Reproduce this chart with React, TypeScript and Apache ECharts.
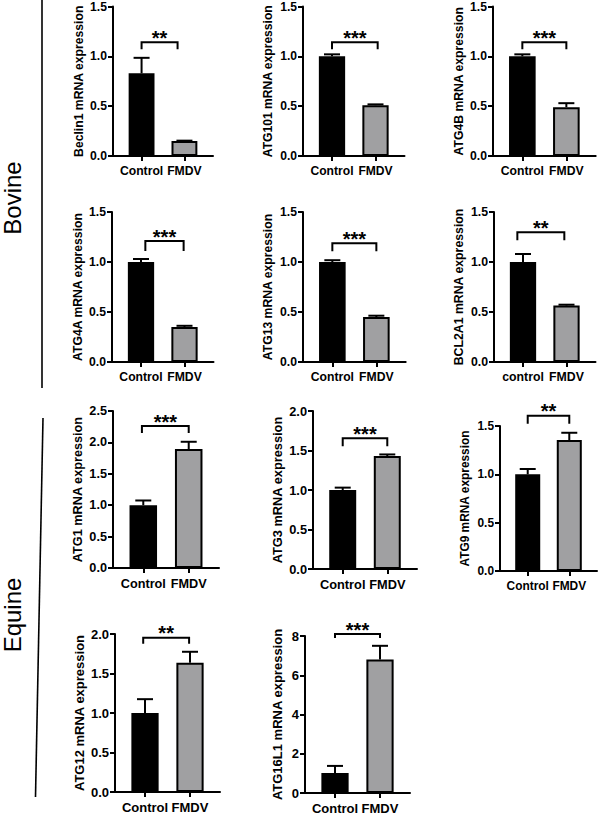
import React, { useEffect, useRef } from 'react';
import * as echarts from 'echarts';

// ---- data ----
const genes = ['Beclin1', 'ATG101', 'ATG4B', 'ATG4A', 'ATG13', 'BCL2A1', 'ATG1', 'ATG3', 'ATG9', 'ATG12', 'ATG16L1'];
const controlLabels = ['Control', 'Control', 'Control', 'Control', 'Control', 'control', 'Control', 'Control', 'Control', 'Control', 'Control'];
const infectedLabel = 'FMDV';
const meanControl = [0.83, 1.0, 1.0, 1.0, 1.0, 1.0, 1.0, 1.0, 1.0, 1.0, 1.02];
const meanFMDV = [0.15, 0.51, 0.49, 0.35, 0.45, 0.565, 1.895, 1.43, 1.355, 1.635, 6.8];
const errControl = [0.155, 0.02, 0.02, 0.03, 0.018, 0.08, 0.075, 0.03, 0.055, 0.175, 0.36];
const errFMDV = [0.004, 0.008, 0.04, 0.012, 0.013, 0.008, 0.115, 0.02, 0.075, 0.14, 0.7];
const significance = ['**', '***', '***', '***', '***', '**', '***', '***', '**', '**', '***'];
const yMax = [1.5, 1.5, 1.5, 1.5, 1.5, 1.5, 2.5, 2.0, 1.5, 2.0, 8];
const yStep = [0.5, 0.5, 0.5, 0.5, 0.5, 0.5, 0.5, 0.5, 0.5, 0.5, 2];
const bracketLevel = [1.142, 1.142, 1.142, 1.21, 1.187, 1.297, 2.26, 1.654, 1.607, 1.953, 8.1];
const sideLabels = ['Bovine', 'Equine'];

// ---- layout (pixels) ----
const layout = [
  { left: 113, width: 100, top: 6.5, bottom: 156 },
  { left: 303, width: 101.5, top: 6.5, bottom: 156 },
  { left: 493, width: 102.7, top: 6.5, bottom: 156 },
  { left: 112, width: 101.5, top: 212, bottom: 362 },
  { left: 303, width: 102.7, top: 212, bottom: 362 },
  { left: 494, width: 101.5, top: 212, bottom: 362 },
  { left: 113, width: 106, top: 411, bottom: 568 },
  { left: 313, width: 104, top: 411, bottom: 569 },
  { left: 500, width: 97, top: 426, bottom: 571 },
  { left: 115, width: 105, top: 634, bottom: 792 },
  { left: 305, width: 105, top: 636, bottom: 793 },
];
const fontSizes = [12.2, 12.1, 12.2, 12.2, 12.2, 12.3, 12.7, 12.8, 11.9, 13, 13];
const titleCenterGap = [34.5, 35, 34.5, 34, 35, 35, 35, 35, 35, 36, 28];
const bracketSpan = [[1, 1.84], [1, 2.05], [1, 2], [1.1, 1.98], [1, 2], [0.87, 1.95], [0.97, 2], [1, 2], [1, 2], [0.96, 1.98], [1, 2]];
const bracketLeg = [7, 7, 7, 10, 8, 8, 7, 8, 8, 6, 4];

const FONT = "'Liberation Sans', Arial, Helvetica, sans-serif";

export default function App() {
  const ref = useRef<HTMLDivElement>(null);

  useEffect(() => {
    const chart = echarts.init(ref.current as HTMLDivElement, null, { renderer: 'svg' });
    const grid: any[] = [];
    const xAxis: any[] = [];
    const yAxis: any[] = [];
    const series: any[] = [];

    const axisColor = { color: '#000', width: 2 };

    genes.forEach((gene, i) => {
      const L = layout[i];
      const fs = fontSizes[i];
      const labelStyle = { color: '#000', fontSize: fs, fontWeight: 'bold', fontFamily: FONT };
      const unit = (L.width * 3) / 7;
      const cats = [controlLabels[i], infectedLabel];
      grid.push({
        left: L.left,
        top: L.top,
        width: L.width,
        height: L.bottom - L.top,
        containLabel: false,
        outerBoundsMode: 'none',
      });
      xAxis.push({
        gridIndex: i,
        type: 'value',
        min: 1 / 3,
        max: 8 / 3,
        axisLine: { show: true, onZero: false, lineStyle: axisColor },
        axisTick: { show: true, customValues: [1, 2], length: 5, lineStyle: axisColor },
        axisLabel: {
          customValues: [1, 2],
          formatter: (v: number) => cats[Math.round(v) - 1] ?? '',
          margin: 9,
          ...labelStyle,
        },
        splitLine: { show: false },
      });
      yAxis.push({
        gridIndex: i,
        type: 'value',
        min: 0,
        max: yMax[i],
        interval: yStep[i],
        name: `${gene} mRNA expression`,
        nameLocation: 'middle',
        nameGap: titleCenterGap[i] - fs / 2,
        nameTextStyle: { ...labelStyle },
        axisLine: { show: true, onZero: false, lineStyle: axisColor },
        axisTick: { show: true, length: 5, lineStyle: axisColor },
        axisLabel: {
          formatter: (v: number) => (yStep[i] >= 1 ? String(Math.round(v)) : v.toFixed(1)),
          margin: 6,
          ...labelStyle,
        },
        splitLine: { show: false },
      });
      series.push({
        type: 'bar',
        xAxisIndex: i,
        yAxisIndex: i,
        barWidth: unit * 0.65 - 2,
        silent: true,
        itemStyle: { borderColor: '#000', borderWidth: 2 },
        data: [
          { value: [1, meanControl[i]], itemStyle: { color: '#000' } },
          { value: [2, meanFMDV[i]], itemStyle: { color: '#a0a0a2' } },
        ],
        z: 2,
      });
      series.push({
        type: 'custom',
        xAxisIndex: i,
        yAxisIndex: i,
        silent: true,
        clip: false,
        z: 3,
        data: [
          [1, meanControl[i], errControl[i]],
          [2, meanFMDV[i], errFMDV[i]],
        ],
        renderItem: (params: any, api: any) => {
          const x = api.value(0);
          const m = api.value(1);
          const e = api.value(2);
          const p0 = api.coord([x, m]);
          const p1 = api.coord([x, m + e]);
          return {
            type: 'group',
            children: [
              { type: 'line', shape: { x1: p0[0], y1: p0[1], x2: p1[0], y2: p1[1] }, style: { stroke: '#000', lineWidth: 2 } },
              { type: 'line', shape: { x1: p1[0] - 8, y1: p1[1], x2: p1[0] + 8, y2: p1[1] }, style: { stroke: '#000', lineWidth: 2 } },
            ],
          };
        },
      });
      const leg = bracketLeg[i];
      const stars = significance[i];
      series.push({
        type: 'custom',
        xAxisIndex: i,
        yAxisIndex: i,
        silent: true,
        clip: false,
        z: 3,
        encode: { x: [0, 1], y: 2 },
        data: [[bracketSpan[i][0], bracketSpan[i][1], bracketLevel[i]]],
        renderItem: (params: any, api: any) => {
          const a = api.coord([api.value(0), api.value(2)]);
          const b = api.coord([api.value(1), api.value(2)]);
          const y = a[1];
          return {
            type: 'group',
            children: [
              {
                type: 'polyline',
                shape: { points: [[a[0], y + leg], [a[0], y], [b[0], y], [b[0], y + leg]] },
                style: { stroke: '#000', lineWidth: 2, fill: 'none' },
              },
              {
                type: 'text',
                x: (a[0] + b[0]) / 2,
                y: y - 4.5,
                style: {
                  text: stars,
                  fontSize: 20,
                  fontWeight: 'bold',
                  fontFamily: FONT,
                  fill: '#000',
                  align: 'center',
                  verticalAlign: 'middle',
                  textAlign: 'center',
                  textVerticalAlign: 'middle',
                },
              },
            ],
          };
        },
      });
    });

    const sideText = (text: string, x: number, y: number) => ({
      type: 'text',
      x,
      y,
      rotation: Math.PI / 2,
      style: {
        text,
        fontSize: 24,
        fontFamily: FONT,
        fill: '#000',
        align: 'center',
        verticalAlign: 'middle',
        textAlign: 'center',
        textVerticalAlign: 'middle',
      },
    });

    chart.setOption({
      animation: false,
      backgroundColor: '#fff',
      grid,
      xAxis,
      yAxis,
      series,
      graphic: [
        sideText(sideLabels[0], 12.5, 198),
        sideText(sideLabels[1], 12.5, 615),
        { type: 'line', shape: { x1: 42, y1: 0, x2: 42, y2: 388 }, style: { stroke: '#000', lineWidth: 1.6 } },
        { type: 'line', shape: { x1: 43, y1: 418, x2: 35.5, y2: 797 }, style: { stroke: '#000', lineWidth: 1.6 } },
      ],
    });

    return () => chart.dispose();
  }, []);

  return <div ref={ref} style={{ position: 'absolute', left: 0, top: 0, width: 600, height: 818 }} />;
}
